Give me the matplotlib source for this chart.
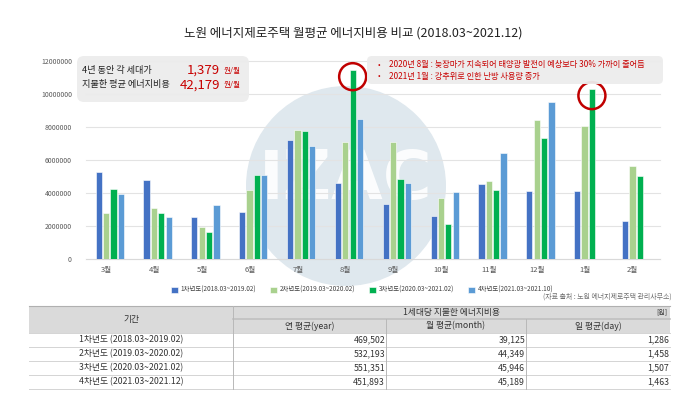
import numpy as np
import matplotlib
matplotlib.use("Agg")
from matplotlib import pyplot as plt
from matplotlib.patches import Ellipse, FancyBboxPatch, Rectangle, Circle

plt.rcParams['font.family'] = ['Noto Sans CJK KR', 'DejaVu Sans']

# ---- data ----
months = ["3월", "4월", "5월", "6월", "7월", "8월", "9월", "10월", "11월", "12월", "1월", "2월"]
series_names = ["1차년도(2018.03~2019.02)", "2차년도(2019.03~2020.02)",
                "3차년도(2020.03~2021.02)", "4차년도(2021.03~2021.10)"]
y1 = [5290000, 4790000, 2570000, 2830000, 7210000, 4630000, 3350000, 2610000, 4550000, 4120000, 4120000, 2280000]
y2 = [2770000, 3070000, 1920000, 4160000, 7820000, 7070000, 7090000, 3720000, 4710000, 8440000, 8060000, 5620000]
y3 = [4240000, 2770000, 1660000, 5110000, 7760000, 11450000, 4830000, 2120000, 4160000, 7310000, 10300000, 5050000]
y4 = [3940000, 2550000, 3270000, 5070000, 6830000, 8480000, 4590000, 4060000, 6400000, 9520000, np.nan, np.nan]
colors = ["#4472C4", "#A9D18E", "#00B050", "#5B9BD5"]
highlight = [(5, 2), (10, 2)]   # (month index, series index) circled in red

title = "노원 에너지제로주택 월평균 에너지비용 비교 (2018.03~2021.12)"
info_lines = ["4년 동안 각 세대가", "지불한 평균 에너지비용"]
info_vals = ["1,379", "42,179"]
notes = ["2020년 8월 : 늦장마가 지속되어 태양광 발전이 예상보다 30% 가까이 줄어듬",
         "2021년 1월 : 강추위로 인한 난방 사용량 증가"]
source = "(자료 출처 : 노원 에너지제로주택 관리사무소)"

tbl_head = "1세대당 지불한 에너지비용"
tbl_cols = ["기간", "연 평균(year)", "월 평균(month)", "일 평균(day)"]
tbl_periods = ["1차년도 (2018.03~2019.02)", "2차년도 (2019.03~2020.02)",
               "3차년도 (2020.03~2021.02)", "4차년도 (2021.03~2021.12)"]
tbl_year = ["469,502", "532,193", "551,351", "451,893"]
tbl_month = ["39,125", "44,349", "45,946", "45,189"]
tbl_day = ["1,286", "1,458", "1,507", "1,463"]

W, H = 680, 396
fig = plt.figure(figsize=(W / 100, H / 100), dpi=100)
fig.patch.set_facecolor("white")

# background layer (watermark)
bg = fig.add_axes([0, 0, 1, 1], zorder=0)
bg.set_xlim(0, W)
bg.set_ylim(H, 0)
bg.axis("off")
bg.add_patch(Circle((346, 186), 100, color="#dfe8ee", lw=0))
bg.text(346, 180, "IZAC", color="white", fontsize=48, fontweight="bold",
        family="DejaVu Sans", ha="center", va="center", alpha=0.9)

# ---- bar chart ----
ax = fig.add_axes([109.7 / W - 23.9 / W, (H - 259) / H, 12 * 47.85 / W, 198 / H], zorder=1)
ax.set_facecolor("none")
x = np.arange(len(months))
step = 0.154
allv = [y1, y2, y3, y4]
for i, vals in enumerate(allv):
    ax.bar(x + (i - 1.5) * step, vals, width=0.13, color=colors[i],
           edgecolor="white", linewidth=0.4, label=series_names[i], zorder=3)

ax.set_xlim(-0.5, len(months) - 0.5)
ax.set_ylim(0, 12000000)
ax.set_yticks(np.arange(0, 12000001, 2000000))
ax.set_yticklabels([str(v) for v in range(0, 12000001, 2000000)])
ax.set_xticks(x - 0.07)
ax.set_xticklabels(months)
ax.tick_params(axis="y", labelsize=5, colors="#595959", length=0, pad=10)
ax.tick_params(axis="x", labelsize=5.5, colors="#595959", length=0, pad=5)
ax.grid(axis="y", color="#e3e3e3", lw=0.8, zorder=0)
for gl in ax.get_ygridlines():
    gl.set_clip_on(False)
for s in ["top", "right", "left"]:
    ax.spines[s].set_visible(False)
ax.spines["bottom"].set_color("#d9d9d9")

# red circles around the highlighted bars
rx = 13.5 / 47.85
ry = 13.5 / 198 * 12000000
for mi, si in highlight:
    cx = mi + (si - 1.5) * step
    cy = allv[si][mi] - 400000
    ax.add_patch(Ellipse((cx, cy), 2 * rx, 2 * ry, fill=False, ec="#C00000",
                         lw=1.8, zorder=5, clip_on=False))

fig.legend(loc="center", bbox_to_anchor=(362 / W, 1 - 290 / H), ncol=4,
           fontsize=4.6, frameon=False, handlelength=1.1, handleheight=1.1,
           handletextpad=0.4, columnspacing=2.2, labelcolor="#404040")

# ---- overlay: title, boxes, table ----
ov = fig.add_axes([0, 0, 1, 1], zorder=2)
ov.set_facecolor("none")
ov.set_xlim(0, W)
ov.set_ylim(H, 0)
ov.axis("off")

ov.text(353, 33, title, ha="center", va="center", fontsize=9, color="#222222")

ov.add_patch(FancyBboxPatch((77, 56), 172, 46, boxstyle="round,pad=0,rounding_size=7",
                            fc="#ececec", ec="none", alpha=0.95))
for k, (t, v) in enumerate(zip(info_lines, info_vals)):
    yy = 70 + k * 15
    ov.text(82, yy, t, ha="left", va="center", fontsize=6.6, color="#222222")
    ov.text(220, yy, v, ha="right", va="center", fontsize=9.5, color="#C80000")
    ov.text(224, yy + 0.5, "원/월", ha="left", va="center", fontsize=5.5, color="#C80000")

ov.add_patch(FancyBboxPatch((367, 56), 296, 28, boxstyle="round,pad=0,rounding_size=5",
                            fc="#ececec", ec="none", alpha=0.95))
for k, t in enumerate(notes):
    yy = 65 + k * 11
    ov.text(378, yy, "•", ha="left", va="center", fontsize=5.5, color="#C80000")
    ov.text(389, yy, t, ha="left", va="center", fontsize=5.9, color="#C80000")

ov.text(672, 297, source, ha="right", va="center", fontsize=5, color="#707070")

# table
cx = [29, 233, 386, 526, 670]
ry_ = [306, 319, 333, 347, 361, 375, 389]
ov.add_patch(Rectangle((cx[0], ry_[0]), cx[-1] - cx[0], ry_[2] - ry_[0], fc="#dadada", ec="none"))
ov.plot([cx[0], cx[-1]], [ry_[0], ry_[0]], color="#b0b0b0", lw=0.8)
ov.plot([cx[1], cx[-1]], [ry_[1], ry_[1]], color="#c0c0c0", lw=1.2)
for r in ry_[2:]:
    ov.plot([cx[0], cx[-1]], [r, r], color="#d4d4d4", lw=0.7)
ov.plot([cx[1], cx[1]], [ry_[0], ry_[-1]], color="#b8b8b8", lw=0.7)
for c in cx[2:4]:
    ov.plot([c, c], [ry_[1], ry_[-1]], color="#b8b8b8", lw=0.7)

fs = 6.3
tc = "#333333"
ov.text((cx[0] + cx[1]) / 2, (ry_[0] + ry_[2]) / 2, tbl_cols[0], ha="center", va="center", fontsize=fs, color=tc)
ov.text((cx[1] + cx[-1]) / 2, (ry_[0] + ry_[1]) / 2, tbl_head, ha="center", va="center", fontsize=fs, color=tc)
ov.text(cx[-1] - 3, (ry_[0] + ry_[1]) / 2, "[원]", ha="right", va="center", fontsize=5, color=tc)
for j in range(1, 4):
    ov.text((cx[j] + cx[j + 1]) / 2, (ry_[1] + ry_[2]) / 2, tbl_cols[j], ha="center", va="center", fontsize=fs, color=tc)
for i in range(len(tbl_periods)):
    yy = (ry_[i + 2] + ry_[i + 3]) / 2
    ov.text((cx[0] + cx[1]) / 2, yy, tbl_periods[i], ha="center", va="center", fontsize=fs, color=tc)
    for j, col in enumerate([tbl_year, tbl_month, tbl_day]):
        ov.text(cx[j + 2] - 1, yy, col[i], ha="right", va="center", fontsize=fs, color=tc)

fig.savefig("out.png", dpi=100)
